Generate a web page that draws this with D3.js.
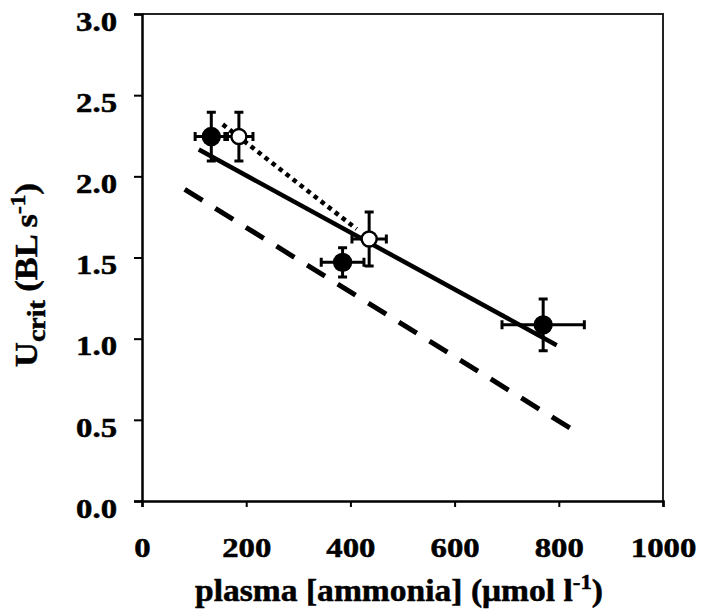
<!DOCTYPE html>
<html>
<head>
<meta charset="utf-8">
<script src="https://cdn.jsdelivr.net/npm/d3@7"></script>
<style>
  body { margin: 0; background: #fff; }
  text { font-family: "Liberation Serif", "Times New Roman", serif; font-weight: bold; fill: #000; stroke: #000; stroke-width: 0.5px; }
</style>
</head>
<body>
<main></main>
<script>
// values
let xTicks = [0, 200, 400, 600, 800, 1000]
let yTicks = [0, 0.5, 1.0, 1.5, 2.0, 2.5, 3.0]

// filled circles
let filledX = [133, 385, 770]
let filledY = [2.245, 1.47, 1.085]
let filledXErr = [31, 41, 79]
let filledYErr = [0.15, 0.09, 0.16]

// open circles
let openX = [186, 436]
let openY = [2.245, 1.614]
let openXErr = [27, 33]
let openYErr = [0.15, 0.167]

// regression lines (end points)
let solidX = [109, 796]
let solidY = [2.165, 0.96]
let dottedX = [155, 412]
let dottedY = [2.32, 1.675]
let dashedX = [82, 822]
let dashedY = [1.92, 0.448]

let W = 706, H = 612
let margin = { top: 14, right: 43, bottom: 111, left: 142 }

let svg = d3.select('main')
    .append('svg')
    .attr('width', W)
    .attr('height', H)

let x = d3.scaleLinear().domain([0, 1000]).range([margin.left, W - margin.right])
let y = d3.scaleLinear().domain([0, 3]).range([H - margin.bottom, margin.top])

// stretch glyphs sideways like the original
function widen(sel, k) {
    sel.each(function () {
        let len = this.getComputedTextLength()
        d3.select(this).attr('textLength', len * k).attr('lengthAdjust', 'spacingAndGlyphs')
    })
}

// frame
svg.append('path')
    .attr('d', `M${x(0)},${y(3)}H${x(1000)}V${y(0)}`)
    .attr('fill', 'none')
    .attr('stroke', '#222')
    .attr('stroke-width', 2)

let xAxis = svg.append('g')
    .attr('transform', `translate(0,${y(0)})`)
    .call(d3.axisBottom(x).tickValues(xTicks).tickSize(6).tickPadding(30).tickFormat(d3.format('d')))
let yAxis = svg.append('g')
    .attr('transform', `translate(${x(0)},0)`)
    .call(d3.axisLeft(y).tickValues(yTicks).tickSize(8).tickPadding(17).tickFormat(d3.format('.1f')))

svg.selectAll('.domain').attr('stroke', '#000').attr('stroke-width', 2.5)
svg.selectAll('.tick line').attr('stroke', '#000').attr('stroke-width', 2)
svg.selectAll('.tick text')
    .attr('font-family', null)
    .style('font-size', '28px')
yAxis.selectAll('.tick text').attr('dy', '0.58em')
widen(svg.selectAll('.tick text'), 1.17)

// lines
let line = d3.line().x(d => x(d[0])).y(d => y(d[1]))
svg.append('path')
    .attr('d', line(d3.zip(dashedX, dashedY)))
    .attr('fill', 'none').attr('stroke', '#000').attr('stroke-width', 5)
    .attr('stroke-dasharray', '21,15')
svg.append('path')
    .attr('d', line(d3.zip(solidX, solidY)))
    .attr('fill', 'none').attr('stroke', '#000').attr('stroke-width', 4.5)
svg.append('path')
    .attr('d', line(d3.zip(dottedX, dottedY)))
    .attr('fill', 'none').attr('stroke', '#000').attr('stroke-width', 4.5)
    .attr('stroke-dasharray', '4.5,4.4')

// error bars + markers
function drawPoints(xs, ys, xe, ye, fill) {
    let pts = d3.range(xs.length).map(i => ({ x: xs[i], y: ys[i], xe: xe[i], ye: ye[i] }))
    let g = svg.append('g').attr('stroke', '#000').attr('stroke-width', 3)
    let cap = 4.5
    pts.forEach(d => {
        let cx = x(d.x), cy = y(d.y)
        let x0 = x(d.x - d.xe), x1 = x(d.x + d.xe), y0 = y(d.y - d.ye), y1 = y(d.y + d.ye)
        g.append('path')
            .attr('fill', 'none')
            .attr('d', `M${x0},${cy}H${x1}M${cx},${y0}V${y1}` +
                `M${x0},${cy - cap}V${cy + cap}M${x1},${cy - cap}V${cy + cap}` +
                `M${cx - cap},${y0}H${cx + cap}M${cx - cap},${y1}H${cx + cap}`)
    })
    g.selectAll('circle')
        .data(pts)
        .enter()
        .append('circle')
        .attr('cx', d => x(d.x))
        .attr('cy', d => y(d.y))
        .attr('r', fill === '#000' ? 8.5 : 7.5)
        .attr('fill', fill)
        .attr('stroke-width', 2.4)
}
drawPoints(filledX, filledY, filledXErr, filledYErr, '#000')
drawPoints(openX, openY, openXErr, openYErr, '#fff')

// axis titles
let xt = svg.append('text')
    .attr('x', 399)
    .attr('y', 601)
    .attr('text-anchor', 'middle')
    .style('font-size', '31px')
xt.append('tspan').text('plasma [ammonia] (\u03bcmol l')
xt.append('tspan').attr('dy', -12).style('font-size', '21px').text('-1')
xt.append('tspan').attr('dy', 12).text(')')
xt.attr('textLength', 408).attr('lengthAdjust', 'spacingAndGlyphs')

let yt = svg.append('text')
    .attr('transform', 'translate(37,275) rotate(-90)')
    .attr('text-anchor', 'middle')
    .style('font-size', '31px')
yt.append('tspan').text('U')
yt.append('tspan').attr('dy', 8).style('font-size', '25px').text('crit')
yt.append('tspan').attr('dy', -8).text(' (BL s')
yt.append('tspan').attr('dy', -12).style('font-size', '21px').text('-1')
yt.append('tspan').attr('dy', 12).text(')')
yt.attr('textLength', 184).attr('lengthAdjust', 'spacingAndGlyphs')
</script>
</body>
</html>
